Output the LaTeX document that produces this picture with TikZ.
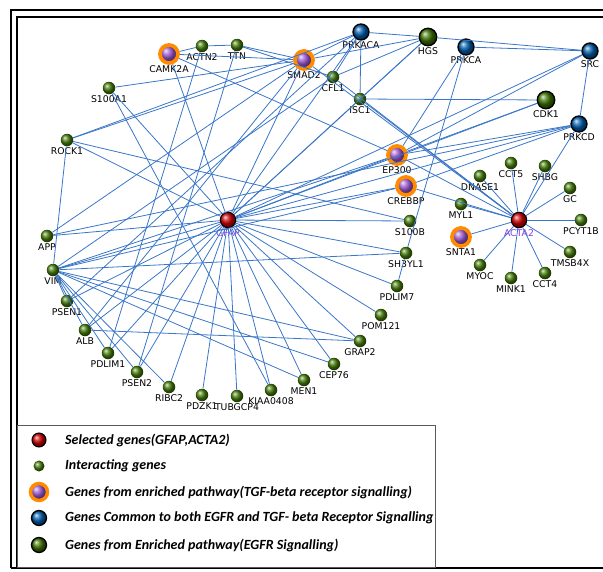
\documentclass[tikz,border=0pt]{standalone}
\usepackage{fontspec}
\setmainfont{DejaVu Sans}
\newfontfamily\legendfont{Carlito}
\definecolor{linkblue}{RGB}{58,118,200}
\definecolor{genegreen}{RGB}{70,125,10}
\definecolor{egfrgreen}{RGB}{60,115,0}
\definecolor{bothblue}{RGB}{0,95,175}
\definecolor{tgfpurple}{RGB}{150,80,205}
\definecolor{ringorange}{RGB}{255,140,0}
\definecolor{selred}{RGB}{210,0,0}
\definecolor{selpurple}{RGB}{140,60,230}
\newcommand{\gene}[4]{\node[#1,label={[glabel]below:#4}] (#2) at (#3) {};}

\begin{document}
\begin{tikzpicture}[x=1pt,y=-1pt,
      label distance=0.3pt,
      ball/.style={circle,inner sep=0pt},
      gene/.style={ball,minimum size=12.5pt,ball color=genegreen},
      egfr/.style={ball,minimum size=17.5pt,ball color=egfrgreen,draw=black,line width=1.3pt},
      both/.style={ball,minimum size=16pt,ball color=bothblue,draw=black,line width=1.3pt},
      tgf/.style={ball,minimum size=18pt,ball color=tgfpurple,draw=ringorange,line width=3.8pt},
      sel/.style={ball,minimum size=15.5pt,ball color=selred,draw=black,line width=1pt},
      glabel/.style={font=\fontsize{9.3}{10}\selectfont,inner sep=0.5pt},
      link/.style={draw=linkblue,line width=0.8pt},
      legtext/.style={anchor=west,inner sep=0pt,font=\legendfont\bfseries\itshape\fontsize{14}{16}\selectfont}
      ]
      \useasboundingbox (0,0) rectangle (603,571);
      % frame
      \draw[line width=2.5pt] (11,568) -- (11,10) -- (603,10);
      \draw[line width=2pt] (17,567) -- (17,17) -- (603,17);
      \draw[line width=2.5pt] (11,568) -- (603,568);

      % genes
      \gene{tgf}{camk}{169,54}{CAMK2A}
      \gene{gene}{actn}{202,46}{ACTN2}
      \gene{gene}{ttn}{237,45}{TTN}
      \gene{tgf}{smad}{304,60}{SMAD2}
      \gene{both}{prkaca}{361,32}{PRKACA}
      \gene{egfr}{hgs}{428,37}{HGS}
      \gene{both}{prkca}{466,47}{PRKCA}
      \gene{both}{src}{590,51}{SRC}
      \gene{gene}{cfl}{333,77}{CFL1}
      \gene{gene}{isc}{360,99}{ISC1}
      \gene{egfr}{cdk}{546,100}{CDK1}
      \gene{both}{prkcd}{579,124}{PRKCD}
      \gene{tgf}{ep}{397,155}{EP300}
      \gene{tgf}{creb}{406,186}{CREBBP}
      \gene{gene}{s100a}{109,88}{S100A1}
      \gene{gene}{rock}{67,140}{ROCK1}
      \gene{sel}{gfap}{228,220}{\textcolor{selpurple}{GFAP}}
      \gene{sel}{acta}{519,220}{\textcolor{selpurple}{ACTA2}}
      \gene{gene}{dnase}{480,176}{DNASE1}
      \gene{gene}{cct5}{511,163}{CCT5}
      \gene{gene}{shbg}{545,166}{SHBG}
      \gene{gene}{gc}{570,188}{GC}
      \gene{gene}{pcyt}{581,220}{PCYT1B}
      \gene{gene}{tmsb}{570,252}{TMSB4X}
      \gene{gene}{cct4}{545,273}{CCT4}
      \gene{gene}{mink}{511,278}{MINK1}
      \gene{gene}{myoc}{480,265}{MYOC}
      \gene{tgf}{snta}{461,237}{SNTA1}
      \gene{gene}{myl}{461,204}{MYL1}
      \gene{gene}{s100b}{410,221}{S100B}
      \gene{gene}{sh3}{406,253}{SH3YL1}
      \gene{gene}{pdlim7}{397,286}{PDLIM7}
      \gene{gene}{pom}{381,315}{POM121}
      \gene{gene}{grap}{360,341}{GRAP2}
      \gene{gene}{cep}{334,364}{CEP76}
      \gene{gene}{men}{304,380}{MEN1}
      \gene{gene}{kiaa}{271,390}{KIAA0408}
      \gene{gene}{tubg}{237,396}{TUBGCP4}
      \gene{gene}{pdzk}{202,395}{PDZK1}
      \gene{gene}{ribc}{169,387}{RIBC2}
      \gene{gene}{psen2}{137,372}{PSEN2}
      \gene{gene}{pdlim1}{108,353}{PDLIM1}
      \gene{gene}{alb}{85,330}{ALB}
      \gene{gene}{psen1}{67,301}{PSEN1}
      \gene{gene}{vim}{53,270}{VIM}
      \gene{gene}{app}{47,236}{APP}

      % interactions
      \path (gfap) edge[link] (app) edge[link] (vim) edge[link] (psen1) edge[link] (alb)
            edge[link] (pdlim1) edge[link] (psen2) edge[link] (ribc) edge[link] (pdzk)
            edge[link] (tubg) edge[link] (kiaa) edge[link] (men) edge[link] (cep)
            edge[link] (grap) edge[link] (pom) edge[link] (pdlim7) edge[link] (sh3)
            edge[link] (s100b) edge[link] (creb) edge[link] (ep) edge[link] (smad)
            edge[link] (camk) edge[link] (rock) edge[link] (prkaca) edge[link] (hgs)
            edge[link] (src) edge[link] (cdk) edge[link] (prkcd) edge[link] (s100a)
            edge[link] (isc);
      \path (acta) edge[link] (dnase) edge[link] (cct5) edge[link] (shbg) edge[link] (gc)
            edge[link] (pcyt) edge[link] (tmsb) edge[link] (cct4) edge[link] (mink)
            edge[link] (myoc) edge[link] (snta) edge[link] (myl) edge[link] (creb)
            edge[link] (ep) edge[link] (isc) edge[link] (cfl) edge[link] (smad)
            edge[link] (prkcd);
      \path (camk) edge[link] (actn) edge[link] (smad) edge[link] (ep);
      \path (actn) edge[link] (ttn) edge[link] (pdlim1);
      \path (ttn) edge[link] (cfl) edge[link] (smad) edge[link] (psen2);
      \path (smad) edge[link] (prkaca) edge[link] (hgs);
      \path (prkaca) edge[link] (hgs) edge[link] (cfl) edge[link] (isc);
      \path (hgs) edge[link] (src) edge[link] (isc) edge[link] (cfl);
      \path (prkca) edge[link] (src) edge[link] (ep) edge[link] (sh3);
      \path (sh3) edge[link] (pdlim7);
      \path (isc) edge[link] (cdk);
      \path (src) edge[link] (ep) edge[link] (prkcd);
      \path (cdk) edge[link] (ep);
      \path (prkcd) edge[link] (ep) edge[link] (creb) edge[link] (app);
      \path (rock) edge[link] (smad) edge[link] (prkaca) edge[link] (vim) edge[link] (s100b);
      \path (s100a) edge[link] (smad) edge[link] (kiaa);
      \path (app) edge[link] (smad);
      \path (vim) edge[link] (psen1) edge[link] (alb) edge[link] (pdlim1) edge[link] (psen2)
            edge[link] (ribc) edge[link] (grap) edge[link] (cep) edge[link] (men)
            edge[link] (sh3) edge[link] (cfl) edge[link] (ep) edge[link] (creb);
      \path (alb) edge[link] (grap) edge[link] (smad);
      \path (psen1) edge[link] (prkaca);

      % legend
      \draw[gray!70!black,line width=0.8pt] (17,425) rectangle (435,567);
      \node[sel,minimum size=14pt] (lsel) at (39,440) {};
      \node[gene,minimum size=11pt] (lgene) at (39,466) {};
      \node[tgf,minimum size=17pt,line width=3.5pt] (ltgf) at (39,492) {};
      \node[both,minimum size=15pt] (lboth) at (39,518) {};
      \node[egfr,minimum size=15pt] (legfr) at (39,545) {};
      \node[legtext] (tsel) at (65,440) {Selected genes(GFAP,ACTA2)};
      \node[legtext] (tgene) at (65,466) {Interacting genes};
      \node[legtext] (ttgf) at (65,492) {Genes from enriched pathway(TGF-beta receptor signalling)};
      \node[legtext] (tboth) at (65,518) {Genes Common to both EGFR and TGF- beta Receptor Signalling};
      \node[legtext] (tegfr) at (65,545) {Genes from Enriched pathway(EGFR Signalling)};
    \end{tikzpicture}
\end{document}
